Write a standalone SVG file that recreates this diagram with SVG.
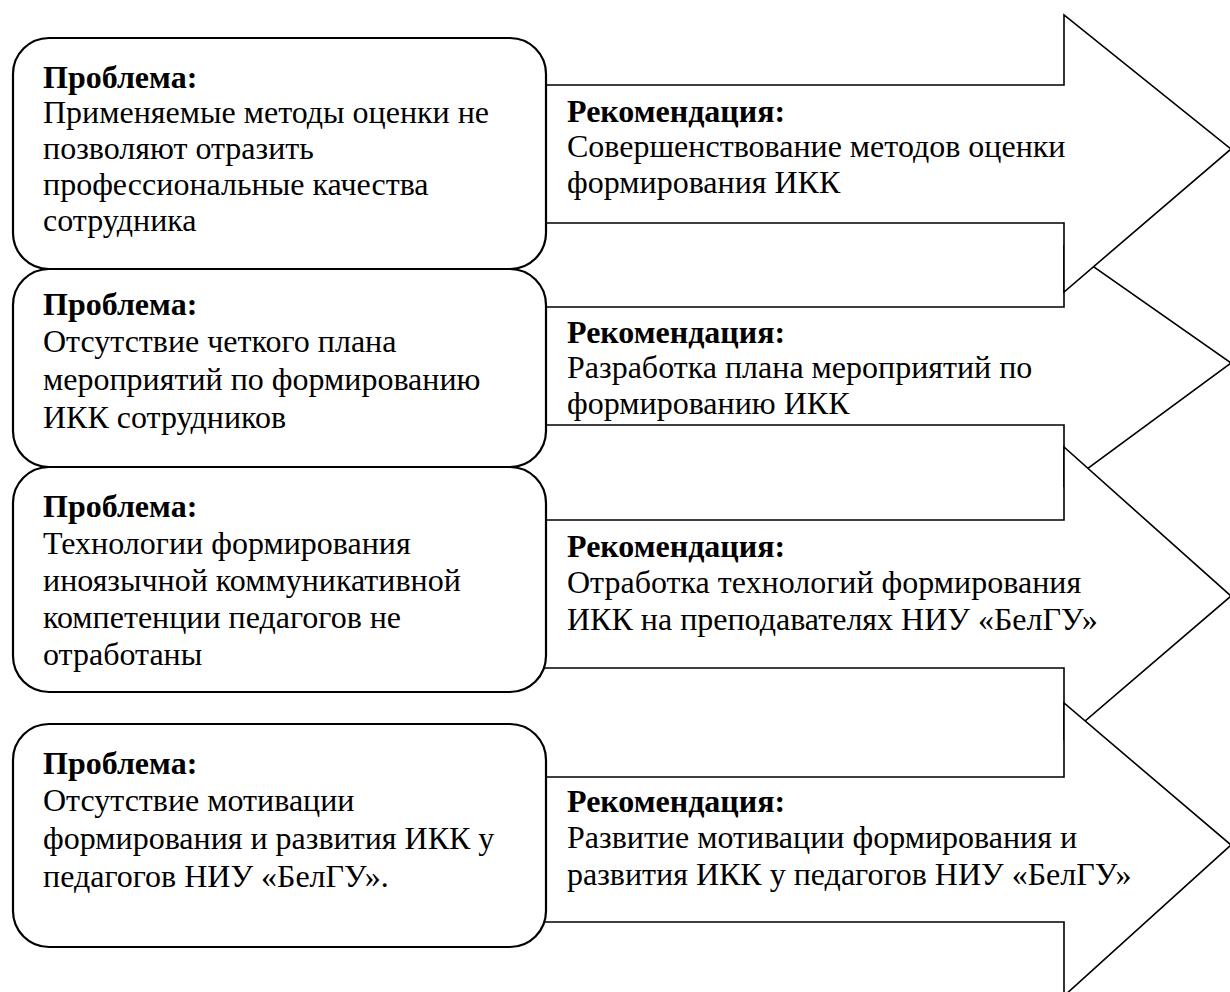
<svg xmlns="http://www.w3.org/2000/svg" width="1230" height="992" viewBox="0 0 1230 992">
  <style>
    .bg { fill: #ffffff; }
    .arrow { fill: #ffffff; stroke: #000000; stroke-width: 1.6; stroke-linejoin: miter; }
    .box { fill: #ffffff; stroke: #000000; stroke-width: 2.2; }
    text { font-family: "Liberation Serif", "Times New Roman", serif; font-size: 32px; fill: #000000; }
    .h { font-weight: bold; }
  </style>
  <rect class="bg" x="0" y="0" width="1230" height="992"/>
  <g id="connectors"></g>
  <g id="rec2">
    <polygon class="arrow" points="530,307 1064,307 1064,246 1231,363 1064,486 1064,425 530,425"/>
    <text x="567" y="343"><tspan class="h">Рекомендация:</tspan></text>
    <text x="567" y="378">Разработка плана мероприятий по</text>
    <text x="567" y="414">формированию ИКК</text>
  </g>
  <g id="rec1">
    <polygon class="arrow" points="530,85 1064,85 1064,15 1231,149 1064,292 1064,223 530,223"/>
    <text x="567" y="122"><tspan class="h">Рекомендация:</tspan></text>
    <text x="567" y="157">Совершенствование методов оценки</text>
    <text x="567" y="193">формирования ИКК</text>
  </g>
  <g id="rec3">
    <polygon class="arrow" points="530,520 1064,520 1064,447 1231,596 1064,739 1064,668 530,668"/>
    <text x="567" y="557"><tspan class="h">Рекомендация:</tspan></text>
    <text x="567" y="593">Отработка технологий формирования</text>
    <text x="567" y="630">ИКК на преподавателях НИУ «БелГУ»</text>
  </g>
  <g id="rec4">
    <polygon class="arrow" points="530,777 1064,777 1064,703 1231,845 1064,996 1064,922 530,922"/>
    <text x="567" y="812"><tspan class="h">Рекомендация:</tspan></text>
    <text x="567" y="848">Развитие мотивации формирования и</text>
    <text x="567" y="885">развития ИКК у педагогов НИУ «БелГУ»</text>
  </g>
  <g id="prob1">
    <rect class="box" x="13" y="38" width="533" height="231" rx="36" ry="36"/>
    <text x="43" y="88"><tspan class="h">Проблема:</tspan></text>
    <text x="43" y="123">Применяемые методы оценки не</text>
    <text x="43" y="159">позволяют отразить</text>
    <text x="43" y="195">профессиональные качества</text>
    <text x="43" y="231">сотрудника</text>
  </g>
  <g id="prob2">
    <rect class="box" x="13" y="269" width="533" height="198" rx="36" ry="36"/>
    <text x="43" y="315"><tspan class="h">Проблема:</tspan></text>
    <text x="43" y="352">Отсутствие четкого плана</text>
    <text x="43" y="390">мероприятий по формированию</text>
    <text x="43" y="428">ИКК сотрудников</text>
  </g>
  <g id="prob3">
    <rect class="box" x="13" y="467" width="533" height="225" rx="36" ry="36"/>
    <text x="43" y="517"><tspan class="h">Проблема:</tspan></text>
    <text x="43" y="554">Технологии формирования</text>
    <text x="43" y="591">иноязычной коммуникативной</text>
    <text x="43" y="628">компетенции педагогов не</text>
    <text x="43" y="665">отработаны</text>
  </g>
  <g id="prob4">
    <rect class="box" x="13" y="724" width="533" height="223" rx="36" ry="36"/>
    <text x="43" y="774"><tspan class="h">Проблема:</tspan></text>
    <text x="43" y="811">Отсутствие мотивации</text>
    <text x="43" y="849">формирования и развития ИКК у</text>
    <text x="43" y="887">педагогов НИУ «БелГУ».</text>
  </g>
</svg>
